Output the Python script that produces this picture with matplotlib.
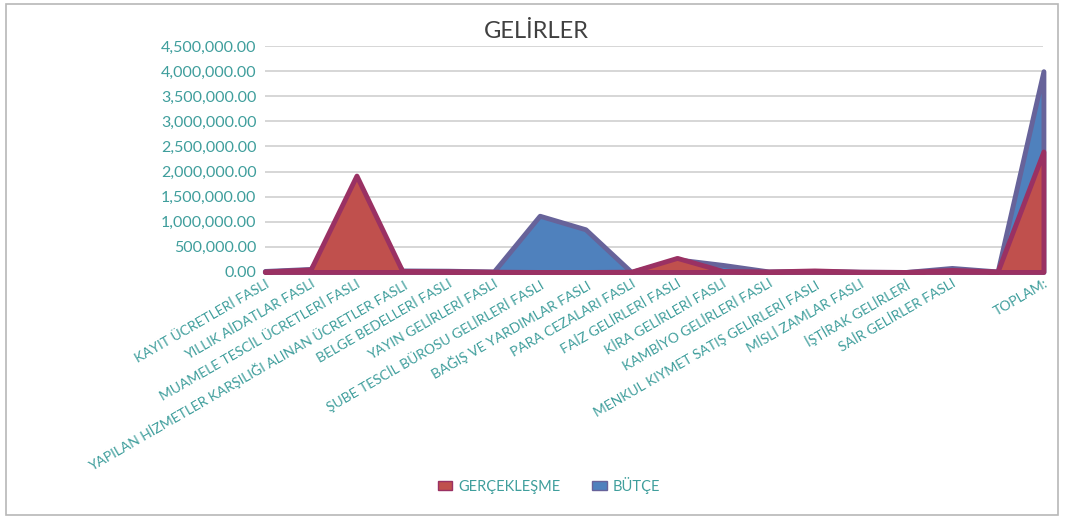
import matplotlib.pyplot as plt
from matplotlib.patches import Patch, Rectangle
from matplotlib.ticker import FuncFormatter

plt.rcParams['font.family'] = ['Lato', 'DejaVu Sans']

categories = [
    "KAYIT ÜCRETLERİ FASLI",
    "YILLIK AİDATLAR FASLI",
    "MUAMELE TESCİL ÜCRETLERİ FASLI",
    "YAPILAN HİZMETLER KARŞILIĞI ALINAN ÜCRETLER FASLI",
    "BELGE BEDELLERİ FASLI",
    "YAYIN GELİRLERİ FASLI",
    "ŞUBE TESCİL BÜROSU GELİRLERİ FASLI",
    "BAĞIŞ VE YARDIMLAR FASLI",
    "PARA CEZALARI FASLI",
    "FAİZ GELİRLERİ FASLI",
    "KİRA GELİRLERİ FASLI",
    "KAMBİYO GELİRLERİ FASLI",
    "MENKUL KIYMET SATIŞ GELİRLERİ FASLI",
    "MİSLİ ZAMLAR FASLI",
    "İŞTİRAK GELİRLERİ",
    "SAİR GELİRLER FASLI",
    "",
    "TOPLAM:",
]
gerceklesme = [10000, 50000, 1920000, 20000, 15000, 5000, 0, 0, 5000,
               280000, 20000, 10000, 30000, 5000, 0, 40000, 10000, 2400000]
butce = [20000, 60000, 1370000, 30000, 25000, 10000, 1120000, 850000, 0,
         250000, 140000, 10000, 20000, 5000, 0, 80000, 10000, 4000000]

TEAL = "#3f9e9c"
RED_FILL, RED_EDGE = "#c0504d", "#9a3163"
BLUE_FILL, BLUE_EDGE = "#4f81bd", "#67639a"

fig = plt.figure(figsize=(10.68, 5.18), dpi=100)
ax = fig.add_axes([0.248, 0.475, 0.729, 0.436])

x = list(range(len(categories)))
ax.fill_between(x, butce, 0, facecolor=BLUE_FILL, edgecolor=BLUE_EDGE,
                linewidth=3.5, clip_on=False, zorder=2)
ax.fill_between(x, gerceklesme, 0, facecolor=RED_FILL, edgecolor=RED_EDGE,
                linewidth=3.5, clip_on=False, zorder=3)

ax.set_xlim(0, len(categories) - 1)
ax.set_ylim(0, 4500000)
ax.set_yticks(range(0, 4500001, 500000))
ax.yaxis.set_major_formatter(FuncFormatter(lambda v, p: f"{v:,.2f}"))
ax.grid(axis="y", color="#d0d0d0", linewidth=1.2)
ax.set_axisbelow(True)
for s in ax.spines.values():
    s.set_visible(False)
ax.tick_params(axis="y", length=0, labelsize=11.5, labelcolor=TEAL, pad=6)
ax.tick_params(axis="x", length=0, labelsize=10, labelcolor=TEAL, pad=4)
ax.set_xticks(x)
ax.set_xticklabels(categories, rotation=30, ha="right", rotation_mode="anchor")

fig.text(0.502, 0.94, "GELİRLER", ha="center", va="center",
         fontsize=17, color="#404040")

handles = [Patch(facecolor=RED_FILL, edgecolor=RED_EDGE, label="GERÇEKLEŞME"),
           Patch(facecolor=BLUE_FILL, edgecolor=BLUE_EDGE, label="BÜTÇE")]
leg = fig.legend(handles=handles, loc="center", bbox_to_anchor=(0.514, 0.063),
                 ncol=2, frameon=False, fontsize=10.5, handlelength=1.0,
                 handleheight=0.6, columnspacing=2.2, handletextpad=0.4)
for t in leg.get_texts():
    t.set_color(TEAL)

fig.patches.append(Rectangle((0.006, 0.006), 0.985, 0.987, transform=fig.transFigure,
                             fill=False, edgecolor="#b8b8b8", linewidth=1.2))

fig.savefig("out.png", dpi=100)
